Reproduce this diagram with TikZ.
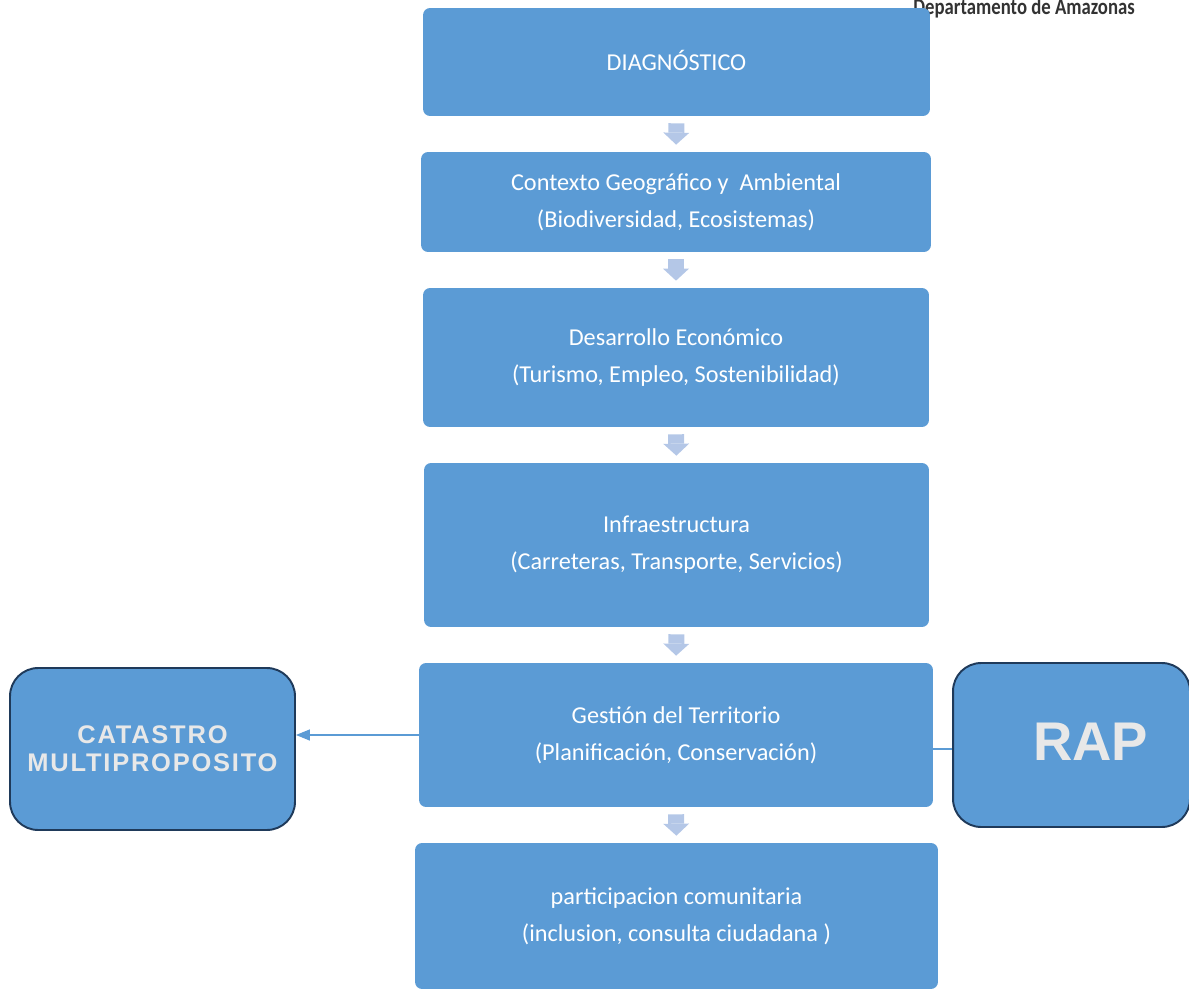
\documentclass[tikz,border=0pt]{standalone}
\usepackage{fontspec}
\setmainfont{Carlito}
\newfontfamily\wordart[LetterSpace=7]{Liberation Sans}
\newfontfamily\rapfont{Liberation Sans}
\newfontfamily\headfont[FakeStretch=0.82]{Carlito}
\usetikzlibrary{arrows.meta}
\definecolor{boxfill}{HTML}{5B9BD5}
\definecolor{sideborder}{HTML}{1F3A5A}
\definecolor{blockblue}{HTML}{B4C7E7}
\definecolor{artgrey}{HTML}{E8E8E8}
\definecolor{headgrey}{HTML}{333333}
\tikzset{
  stage/.style={rectangle, rounded corners=4pt, fill=boxfill, align=center, text=white, inner sep=0pt, font=\fontsize{13.8}{21}\selectfont},
  side/.style={rectangle, rounded corners=16pt, fill=boxfill, draw=sideborder, line width=1.1pt, align=center, text=artgrey},
  blockflow/.style={draw=blockblue, line width=0.32cm, shorten <=0.14cm, shorten >=0.14cm, -{Triangle[length=2.4mm, width=5.2mm, line width=0pt]}},
  thinflow/.style={draw=boxfill, line width=0.8pt}
}
\begin{document}
\begin{tikzpicture}[x=0.02cm, y=-0.02cm]
\useasboundingbox (0,0) rectangle (1189,989);

\node[anchor=base east, font=\headfont\bfseries\fontsize{13}{14}\selectfont, text=headgrey] (dept) at (1141,15) {Departamento de Amazonas};

\node[stage, minimum width=10.14cm, minimum height=2.16cm] (diag) at (676.5,62) {\raisebox{0.06cm}{DIAGNÓSTICO}};
\node[stage, minimum width=10.2cm, minimum height=2.0cm] (context) at (676,202) {Contexto Geográfico y\ \ Ambiental\\(Biodiversidad, Ecosistemas)};
\node[stage, minimum width=10.12cm, minimum height=2.78cm] (econ) at (676,357.5) {Desarrollo Económico\\(Turismo, Empleo, Sostenibilidad)};
\node[stage, minimum width=10.1cm, minimum height=3.28cm] (infra) at (676.5,545) {Infraestructura\\(Carreteras, Transporte, Servicios)};
\node[stage, minimum width=10.28cm, minimum height=2.88cm] (gest) at (676,735) {Gestión del Territorio\\(Planificación, Conservación)};
\node[stage, minimum width=10.46cm, minimum height=2.92cm] (partic) at (676.5,916) {participacion comunitaria\\(inclusion, consulta ciudadana )};

\node[side, minimum width=5.7cm, minimum height=3.24cm, font=\wordart\bfseries\fontsize{14.5}{16}\selectfont] (catastro) at (152.5,749) {CATASTRO\\MULTIPROPOSITO};
\node[side, minimum width=4.74cm, minimum height=3.28cm, font=\rapfont\bfseries\fontsize{31}{33}\selectfont] (rap) at (1071.5,745) {\raisebox{0.14cm}{\hspace*{0.76cm}RAP}};

\draw[blockflow] (diag.south) -- (context.north);
\draw[blockflow] (context.south) -- (econ.north);
\draw[blockflow] (econ.south) -- (infra.north);
\draw[blockflow] (infra.south) -- (gest.north);
\draw[blockflow] (gest.south) -- (partic.north);

\draw[thinflow, -{Triangle[length=2.8mm, width=2.2mm]}] (gest.west) -- (gest.west -| catastro.east);
\draw[thinflow] ([yshift=-8]gest.east) -- ([yshift=-8]gest.east -| rap.west);

\end{tikzpicture}
\end{document}
